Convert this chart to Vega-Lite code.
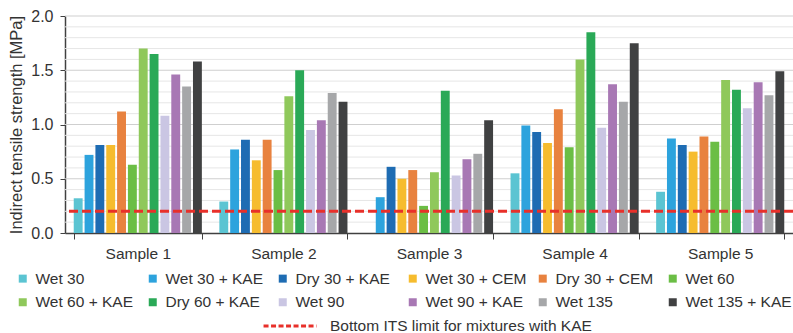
{
  "$schema": "https://vega.github.io/schema/vega-lite/v6.json",
  "width": 728,
  "height": 217,
  "autosize": {"type": "none"},
  "padding": {"left": 65, "top": 16, "right": 0, "bottom": 100},
  "background": "white",
  "config": {
    "font": "Liberation Sans",
    "view": {"stroke": null},
    "axis": {"labelColor": "#333333", "titleColor": "#333333", "labelFont": "Liberation Sans", "titleFont": "Liberation Sans", "titleFontWeight": "normal"},
    "legend": {"labelFont": "Liberation Sans", "labelColor": "#333333"}
  },
  "datasets": {
    "its": [
      {"sample": "Sample 1", "series": "Wet 30", "value": 0.32},
      {"sample": "Sample 1", "series": "Wet 30 + KAE", "value": 0.72},
      {"sample": "Sample 1", "series": "Dry 30 + KAE", "value": 0.81},
      {"sample": "Sample 1", "series": "Wet 30 + CEM", "value": 0.81},
      {"sample": "Sample 1", "series": "Dry 30 + CEM", "value": 1.12},
      {"sample": "Sample 1", "series": "Wet 60", "value": 0.63},
      {"sample": "Sample 1", "series": "Wet 60 + KAE", "value": 1.70},
      {"sample": "Sample 1", "series": "Dry 60 + KAE", "value": 1.65},
      {"sample": "Sample 1", "series": "Wet 90", "value": 1.08},
      {"sample": "Sample 1", "series": "Wet 90 + KAE", "value": 1.46},
      {"sample": "Sample 1", "series": "Wet 135", "value": 1.35},
      {"sample": "Sample 1", "series": "Wet 135 + KAE", "value": 1.58},
      {"sample": "Sample 2", "series": "Wet 30", "value": 0.29},
      {"sample": "Sample 2", "series": "Wet 30 + KAE", "value": 0.77},
      {"sample": "Sample 2", "series": "Dry 30 + KAE", "value": 0.86},
      {"sample": "Sample 2", "series": "Wet 30 + CEM", "value": 0.67},
      {"sample": "Sample 2", "series": "Dry 30 + CEM", "value": 0.86},
      {"sample": "Sample 2", "series": "Wet 60", "value": 0.58},
      {"sample": "Sample 2", "series": "Wet 60 + KAE", "value": 1.26},
      {"sample": "Sample 2", "series": "Dry 60 + KAE", "value": 1.50},
      {"sample": "Sample 2", "series": "Wet 90", "value": 0.95},
      {"sample": "Sample 2", "series": "Wet 90 + KAE", "value": 1.04},
      {"sample": "Sample 2", "series": "Wet 135", "value": 1.29},
      {"sample": "Sample 2", "series": "Wet 135 + KAE", "value": 1.21},
      {"sample": "Sample 3", "series": "Wet 30 + KAE", "value": 0.33},
      {"sample": "Sample 3", "series": "Dry 30 + KAE", "value": 0.61},
      {"sample": "Sample 3", "series": "Wet 30 + CEM", "value": 0.50},
      {"sample": "Sample 3", "series": "Dry 30 + CEM", "value": 0.58},
      {"sample": "Sample 3", "series": "Wet 60", "value": 0.25},
      {"sample": "Sample 3", "series": "Wet 60 + KAE", "value": 0.56},
      {"sample": "Sample 3", "series": "Dry 60 + KAE", "value": 1.31},
      {"sample": "Sample 3", "series": "Wet 90", "value": 0.53},
      {"sample": "Sample 3", "series": "Wet 90 + KAE", "value": 0.68},
      {"sample": "Sample 3", "series": "Wet 135", "value": 0.73},
      {"sample": "Sample 3", "series": "Wet 135 + KAE", "value": 1.04},
      {"sample": "Sample 4", "series": "Wet 30", "value": 0.55},
      {"sample": "Sample 4", "series": "Wet 30 + KAE", "value": 0.99},
      {"sample": "Sample 4", "series": "Dry 30 + KAE", "value": 0.93},
      {"sample": "Sample 4", "series": "Wet 30 + CEM", "value": 0.83},
      {"sample": "Sample 4", "series": "Dry 30 + CEM", "value": 1.14},
      {"sample": "Sample 4", "series": "Wet 60", "value": 0.79},
      {"sample": "Sample 4", "series": "Wet 60 + KAE", "value": 1.60},
      {"sample": "Sample 4", "series": "Dry 60 + KAE", "value": 1.85},
      {"sample": "Sample 4", "series": "Wet 90", "value": 0.97},
      {"sample": "Sample 4", "series": "Wet 90 + KAE", "value": 1.37},
      {"sample": "Sample 4", "series": "Wet 135", "value": 1.21},
      {"sample": "Sample 4", "series": "Wet 135 + KAE", "value": 1.75},
      {"sample": "Sample 5", "series": "Wet 30", "value": 0.38},
      {"sample": "Sample 5", "series": "Wet 30 + KAE", "value": 0.87},
      {"sample": "Sample 5", "series": "Dry 30 + KAE", "value": 0.81},
      {"sample": "Sample 5", "series": "Wet 30 + CEM", "value": 0.75},
      {"sample": "Sample 5", "series": "Dry 30 + CEM", "value": 0.89},
      {"sample": "Sample 5", "series": "Wet 60", "value": 0.84},
      {"sample": "Sample 5", "series": "Wet 60 + KAE", "value": 1.41},
      {"sample": "Sample 5", "series": "Dry 60 + KAE", "value": 1.32},
      {"sample": "Sample 5", "series": "Wet 90", "value": 1.15},
      {"sample": "Sample 5", "series": "Wet 90 + KAE", "value": 1.39},
      {"sample": "Sample 5", "series": "Wet 135", "value": 1.27},
      {"sample": "Sample 5", "series": "Wet 135 + KAE", "value": 1.49}
    ],
    "limit": [
      {"limit": 0.2, "label": "Bottom ITS limit for mixtures with KAE"}
    ],
    "minorGrid": [
      {"v": 0.1}, {"v": 0.2}, {"v": 0.3}, {"v": 0.4}, {"v": 0.6}, {"v": 0.7}, {"v": 0.8}, {"v": 0.9},
      {"v": 1.1}, {"v": 1.2}, {"v": 1.3}, {"v": 1.4}, {"v": 1.6}, {"v": 1.7}, {"v": 1.8}, {"v": 1.9}
    ],
    "majorGrid": [
      {"v": 0.5}, {"v": 1.0}, {"v": 1.5}, {"v": 2.0}
    ]
  },
  "resolve": {"axis": {"y": "independent"}},
  "layer": [
    {
      "data": {"name": "minorGrid"},
      "mark": {"type": "rule", "color": "#e6e6e6", "strokeWidth": 1},
      "encoding": {
        "y": {"field": "v", "type": "quantitative", "scale": {"domain": [0, 2], "nice": false}, "axis": null}
      }
    },
    {
      "data": {"name": "majorGrid"},
      "mark": {"type": "rule", "color": "#cfcfcf", "strokeWidth": 1.2},
      "encoding": {
        "y": {"field": "v", "type": "quantitative", "axis": null}
      }
    },
    {
      "data": {"name": "its"},
      "mark": {"type": "bar"},
      "encoding": {
        "x": {
          "field": "sample", "type": "nominal",
          "scale": {"paddingInner": 0.12, "paddingOuter": 0.06},
          "axis": {
            "title": null, "labelAngle": 0, "labelFontSize": 15.5, "labelPadding": 7,
            "tickBand": "extent", "tickSize": 6, "tickColor": "#404040",
            "domainColor": "#404040", "domainWidth": 1.5, "grid": false
          }
        },
        "xOffset": {
          "field": "series", "type": "nominal",
          "sort": ["Wet 30", "Wet 30 + KAE", "Dry 30 + KAE", "Wet 30 + CEM", "Dry 30 + CEM", "Wet 60", "Wet 60 + KAE", "Dry 60 + KAE", "Wet 90", "Wet 90 + KAE", "Wet 135", "Wet 135 + KAE"],
          "scale": {"paddingInner": 0.18, "paddingOuter": 0}
        },
        "y": {
          "field": "value", "type": "quantitative",
          "axis": {
            "orient": "left",
            "title": "Indirect tensile strength [MPa]", "titleFontSize": 16.5, "titlePadding": 6,
            "values": [0, 0.5, 1, 1.5, 2],
            "format": ".1f",
            "labelFontSize": 16, "labelPadding": 7,
            "tickSize": 5, "tickColor": "#404040",
            "grid": false,
            "domainColor": "#404040", "domainWidth": 1.5
          }
        },
        "color": {
          "field": "series", "type": "nominal",
          "scale": {
            "domain": ["Wet 30", "Wet 30 + KAE", "Dry 30 + KAE", "Wet 30 + CEM", "Dry 30 + CEM", "Wet 60", "Wet 60 + KAE", "Dry 60 + KAE", "Wet 90", "Wet 90 + KAE", "Wet 135", "Wet 135 + KAE"],
            "range": ["#5BC4D2", "#2DA3DD", "#1E6CB3", "#F6BC2E", "#E8823F", "#6BBE45", "#8FC85B", "#2AA957", "#CAC6E3", "#A878B4", "#A6A7A9", "#404142"]
          },
          "legend": {
            "title": null, "orient": "none", "direction": "horizontal", "columns": 6,
            "legendX": -50, "legendY": 254.5, "padding": 0,
            "gridAlign": "all", "columnPadding": 3, "rowPadding": 7,
            "symbolType": "square", "symbolSize": 64, "symbolStrokeWidth": 0,
            "labelFontSize": 15.5, "labelOffset": 5
          }
        }
      }
    },
    {
      "data": {"name": "limit"},
      "mark": {"type": "rule", "strokeWidth": 3, "strokeDash": [9, 4]},
      "encoding": {
        "y": {"field": "limit", "type": "quantitative", "axis": null},
        "stroke": {
          "field": "label", "type": "nominal",
          "scale": {"range": ["#E8302A"]},
          "legend": {
            "title": null, "orient": "none", "legendX": 197, "legendY": 282, "padding": 0,
            "symbolType": "stroke", "symbolSize": 2800, "symbolStrokeWidth": 3,
            "symbolDash": [5, 2.5], "labelFontSize": 15.5, "labelOffset": 12, "labelLimit": 500
          }
        }
      }
    }
  ]
}
